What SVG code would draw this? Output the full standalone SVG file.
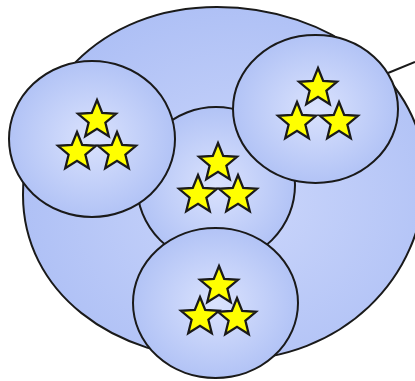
<svg xmlns="http://www.w3.org/2000/svg" width="415" height="381" viewBox="0 0 415 381">
<style>
.outline{stroke:#1a1a1a;stroke-width:2;}
.star{fill:#ffff00;stroke:#1a1a1a;stroke-width:2.3;stroke-linejoin:miter;}
.conn{stroke:#1a1a1a;stroke-width:2;fill:none;}
</style>
<defs>
<radialGradient id="gBig" cx="0.55" cy="0.55" r="0.6">
<stop offset="0" stop-color="#cbd6fb"/>
<stop offset="1" stop-color="#adbff5"/>
</radialGradient>
<radialGradient id="gSmall" cx="0.5" cy="0.5" r="0.55">
<stop offset="0" stop-color="#dae2fd"/>
<stop offset="1" stop-color="#aec0f5"/>
</radialGradient>
<polygon id="star" class="star" points="0,-20 5.2,-7.1 19.02,-6.18 8.4,2.73 11.76,16.18 0,8.8 -11.76,16.18 -8.4,2.73 -19.02,-6.18 -5.2,-7.1"/>
</defs>
<rect width="415" height="381" fill="#ffffff"/>
<g id="connectors">
<line class="conn" x1="388" y1="73" x2="415" y2="62"/>
</g>
<g id="outer">
<path class="outline" fill="url(#gBig)" d="M217,7 C330,7 425,80 425,175 C425,280 340,360 230,360 C110,360 23,290 23,195 C23,90 100,7 217,7 Z"/>
</g>
<g id="center">
<ellipse class="outline" fill="url(#gSmall)" cx="216" cy="185" rx="79" ry="78"/>
<use href="#star" x="218" y="163"/>
<use href="#star" x="198" y="195"/>
<use href="#star" x="238" y="195"/>
</g>
<g id="top-left">
<ellipse class="outline" fill="url(#gSmall)" cx="92" cy="139" rx="83" ry="78"/>
<use href="#star" x="97" y="120"/>
<use href="#star" x="77" y="152"/>
<use href="#star" x="117" y="152"/>
</g>
<g id="top-right">
<ellipse class="outline" fill="url(#gSmall)" cx="315.5" cy="109" rx="82.5" ry="74"/>
<use href="#star" x="318" y="88"/>
<use href="#star" x="297" y="122"/>
<use href="#star" x="339" y="122"/>
</g>
<g id="bottom">
<ellipse class="outline" fill="url(#gSmall)" cx="215.5" cy="303" rx="82.5" ry="75"/>
<use href="#star" x="219" y="286"/>
<use href="#star" x="200" y="317"/>
<use href="#star" x="237" y="318"/>
</g>
</svg>
